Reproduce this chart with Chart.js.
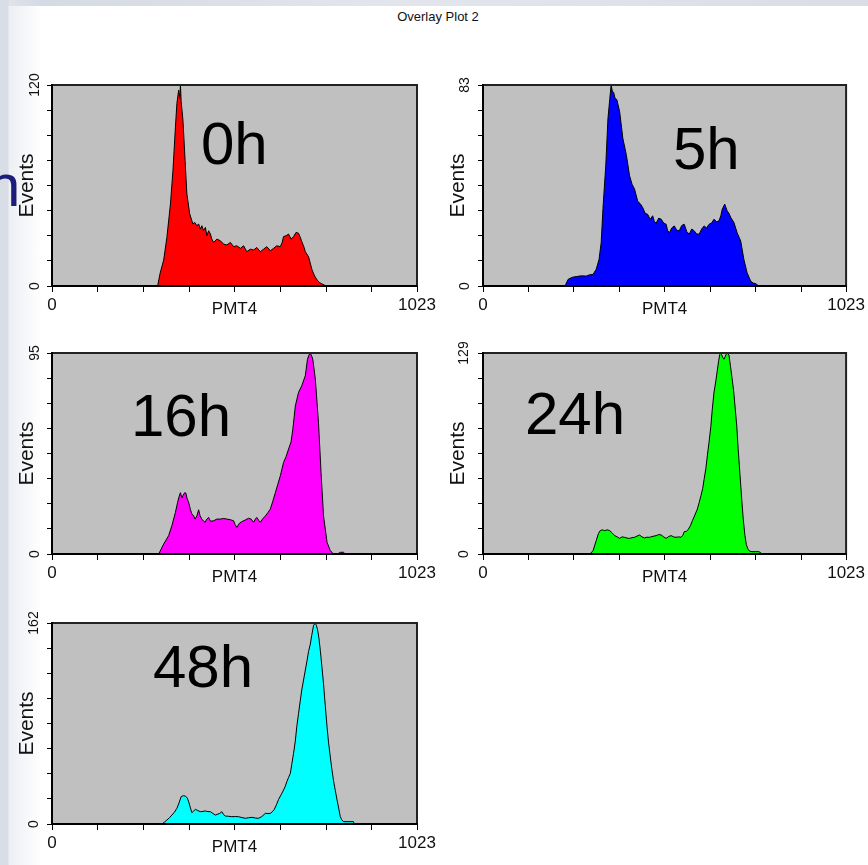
<!DOCTYPE html>
<html>
<head>
<meta charset="utf-8">
<title>Overlay Plot 2</title>
<script src="https://cdn.jsdelivr.net/npm/chart.js@4.4.0/dist/chart.umd.min.js"></script>
<style>
body { margin: 0; width: 868px; height: 865px; overflow: hidden; position: relative; background: #fff; font-family: Arial, "Liberation Sans", sans-serif; }
.bg-top { position: absolute; left: 0; top: 0; width: 868px; height: 6px; background: linear-gradient(to right, #d3d9e2, #e2e6ec 45%, #d9dee6); }
.bg-left { position: absolute; left: 0; top: 0; width: 50px; height: 865px; background: linear-gradient(to right, #d8dde6 0, #d8dde6 8px, rgba(228,232,239,0.7) 9px, rgba(255,255,255,0) 42px); }
canvas { position: absolute; }
.tag { position: absolute; font-size: 60px; line-height: 60px; color: #000; white-space: nowrap; }
.slide-letter { position: absolute; left: -13px; top: 156px; font-size: 60px; line-height: 60px; color: #1c1c7c; }
#plotTitle { position: absolute; left: 378px; top: 9px; width: 120px; text-align: center; font-size: 13px; color: #111; }
</style>
</head>
<body>
<div class="bg-top"></div>
<div class="bg-left"></div>
<div class="slide-letter">n</div>
<div id="plotTitle">Overlay Plot 2</div>

<script>
// time points, one histogram each
const timeLabels = ['0h', '5h', '16h', '24h', '48h'];
const yMaxValues = [120, 83, 95, 129, 162];
const xTickValues = [0, 128, 256, 384, 512, 640, 768, 896, 1023];
const xAxisTitle = 'PMT4';
const yAxisTitle = 'Events';

// PMT4 channel / event counts
const channels0h = [296,303,313,322,332,339,346,350,355,358,360,362,367,373,378,386,395,400,406,411,416,420,425,430,434,439,444,448,453,462,472,481,490,500,509,518,528,537,546,556,565,574,584,593,602,612,621,630,640,645,649,656,663,670,677,684,691,696,700,705,710,719,729,736,743,750,757,764,771];
const counts0h = [0,7.6,15.5,29,49,69,95,109,117,112,120,110,99,75,55,43,37,38,36,37,34,36,33,35,30,33,31,28,26,28,27,25,24.5,26,23.5,24,22.5,24,20.5,22,21.5,23,20.5,22,23.5,21,22.5,24,23.5,26,29.5,30,31,28,29.5,32,31.5,29,26.5,24,20.5,17.5,9.5,6,3.6,2,1.2,0.5,0];

const channels5h = [231,240,252,263,277,291,300,310,319,327,333,338,346,352,357,361,365,368,372,377,385,394,404,413,420,427,436,443,450,457,464,471,478,483,488,495,502,509,516,520,525,532,539,546,553,560,567,574,581,588,595,602,609,616,623,630,637,644,651,658,665,670,674,681,688,693,698,707,716,726,735,744,754,761,768,777];
const counts5h = [0,2.8,3.6,3.9,4.2,4.1,4.6,4.8,6.9,11,18,32,50,69,77,83,80,80,77.5,77,72,61,54,45.5,42,40,35,34,32.4,30,29.6,27.5,29,26.5,26,28,27.6,26,25.5,23,22,24,24.8,23,22.8,25,25.5,22.5,21.4,23.5,22.8,21.5,21.4,23.5,24.8,24,25.5,26,27.6,26.5,26.9,29,31.7,33.8,31,30,28.3,26.2,22,18.6,11,5.5,2.1,1.2,1,0];

const channels16h = [299,313,327,336,346,352,356,360,364,367,372,375,379,383,388,392,397,401,406,411,415,420,425,429,434,439,444,453,462,472,481,490,500,509,513,518,525,532,541,551,558,565,570,574,579,584,590,598,605,612,619,626,633,640,649,656,663,670,675,682,691,700,710,716,720,724,728,731,738,747,754,761,771,780,789,800,808,817,822];
const counts16h = [0,4.7,8.7,13.4,19.7,24.4,27,29,26.5,27.6,29,28.8,26,24.4,21,18.9,18,16.5,18,20.9,18,16.5,15.5,15,16.5,17.3,15.5,15.7,16.5,16.5,16.8,16.5,16.2,15.7,14,12.6,14.5,15.3,16,16.9,16.5,15,16.5,17.3,16,15,16.5,18,19.5,21.3,25,29,33,37,43.3,46,49.6,53,59,70,76.4,79.5,84.3,92,94,95,93.5,92,82.7,62,38.6,18,5.5,1.6,0,0,0.8,0.8,0];

const channels24h = [301,310,319,325,330,336,343,350,357,364,371,378,385,392,399,406,413,420,427,434,441,448,455,462,469,476,488,495,502,509,516,523,530,537,544,551,558,563,567,573,579,585,590,597,604,609,614,619,623,628,632,637,642,646,651,656,660,664,667,670,672,676,679,683,687,690,693,697,701,706,710,715,719,724,729,733,738,742,747,752,758,768,777,782,786];
const counts24h = [0,2.1,8.6,13,15,15.5,15,15.5,15,13.5,11.8,11,10,11,10.7,10.2,10,10.5,10.7,11.5,12.2,11,10.3,10.8,10.7,11.2,11.8,12.5,12.2,11,10,11.2,11.8,11,10.7,11,10.7,12,14.3,14.5,16,18.5,21.4,25,28.9,33,37.4,42,48,55,63,72,82,93,104,111,117.6,124,128,129,128,126,125,127,129,128.5,127.7,121,114,105,95,82,67,51,35,23,11.8,6,2.8,1.8,1.5,1.5,1.5,1,0];

const channels48h = [308,315,322,329,336,343,350,356,362,368,374,379,383,388,392,397,402,409,416,423,430,437,444,451,458,465,470,476,481,486,495,504,514,523,532,542,551,560,570,579,588,598,605,612,618,623,629,635,642,649,654,658,663,668,672,677,682,686,691,696,700,705,710,715,719,724,728,733,738,741,744,748,752,756,761,766,771,775,780,784,789,794,799,804,808,812,817,830,845,847];
const counts48h = [0,1.5,3.2,5,7.2,9.5,12.6,17,22,22.8,22.5,21,18,13,9.1,10.5,11.8,10.8,9.9,10.2,10.5,10,9.9,8.5,7.2,8,8.5,9.9,7.5,6.4,6.2,5.9,6,5.9,5.2,4.6,5,5.4,4.8,4.6,6,8.6,8.4,8.6,10,11.8,15.5,19.8,23.5,27.4,30.5,34,37.5,40.8,48,57,67,78.3,89,99.8,108,116,124,132,139,145,152,160,162,160,157,150,140,128,113,95,78,66,54,45,35,27,19.3,12,5.9,3.5,1.9,1.9,1.9,0];

const channelSets = [channels0h, channels5h, channels16h, channels24h, channels48h];
const countSets = [counts0h, counts5h, counts16h, counts24h, counts48h];
const fillColors = ['#ff0000', '#0000ff', '#ff00ff', '#00ff00', '#00ffff'];

// where each panel canvas sits on the page and where its big time label goes
const panelBoxes = [
    { x: 0,   y: 62,  labelPad: 0, tagX: 201, tagY: 114 },
    { x: 431, y: 62,  labelPad: 5, tagX: 673, tagY: 119 },
    { x: 0,   y: 330, labelPad: 4, tagX: 131, tagY: 386 },
    { x: 431, y: 330, labelPad: 2, tagX: 525, tagY: 384 },
    { x: 0,   y: 600, labelPad: 1, tagX: 153, tagY: 637 }
];

// gray plot area plus a dark frame round it
const boxFrame = {
    id: 'boxFrame',
    beforeDraw(chart) {
        let a = chart.chartArea;
        let ctx = chart.ctx;
        ctx.save();
        ctx.fillStyle = '#c0c0c0';
        ctx.fillRect(a.left, a.top, a.right - a.left, a.bottom - a.top);
        ctx.restore();
    },
    afterDatasetsDraw(chart) {
        let a = chart.chartArea;
        let ctx = chart.ctx;
        ctx.save();
        ctx.strokeStyle = '#222';
        ctx.lineWidth = 2;
        ctx.strokeRect(a.left, a.top, a.right - a.left, a.bottom - a.top);
        ctx.restore();
    }
};

function makePanel(i) {
    let box = panelBoxes[i];
    let canvas = document.createElement('canvas');
    canvas.width = box.x === 0 ? 440 : 437;
    canvas.height = 268;
    canvas.style.left = box.x + 'px';
    canvas.style.top = box.y + 'px';
    document.body.appendChild(canvas);

    let tag = document.createElement('div');
    tag.className = 'tag';
    tag.textContent = timeLabels[i];
    tag.style.left = box.tagX + 'px';
    tag.style.top = box.tagY + 'px';
    document.body.appendChild(tag);

    let yMax = yMaxValues[i];
    let points = channelSets[i].map((c, k) => ({ x: c, y: countSets[i][k] }));
    let edgeLabel = (v, idx, arr) => (idx === 0 || idx === arr.length - 1) ? String(Math.round(v)) : '';

    new Chart(canvas.getContext('2d'), {
        type: 'line',
        data: {
            datasets: [{
                data: points,
                backgroundColor: fillColors[i],
                borderColor: '#000',
                borderWidth: 1,
                fill: 'origin',
                pointRadius: 0,
                tension: 0
            }]
        },
        options: {
            responsive: false,
            animation: false,
            events: [],
            layout: { padding: { left: 0, top: 23, right: canvas.width - 52 - 365, bottom: 0 } },
            plugins: { legend: { display: false }, tooltip: { enabled: false } },
            scales: {
                x: {
                    type: 'linear',
                    min: 0,
                    max: 1023,
                    afterBuildTicks: s => { s.ticks = xTickValues.map(v => ({ value: v })); },
                    afterFit: s => { s.height = 44; },
                    ticks: {
                        autoSkip: false, minRotation: 0, maxRotation: 0, padding: 3,
                        color: '#111', font: { family: 'Arial', size: 17 },
                        callback: edgeLabel
                    },
                    grid: { drawOnChartArea: false, tickLength: 6, color: '#000', tickColor: '#000', z: 1 },
                    border: { display: true, color: '#000', width: 2, z: 1 },
                    title: {
                        display: true, text: xAxisTitle, color: '#111',
                        font: { family: 'Arial', size: 17 }, padding: { top: 0, bottom: 10 }
                    }
                },
                y: {
                    type: 'linear',
                    min: 0,
                    max: yMax,
                    afterBuildTicks: s => {
                        let t = [];
                        for (let k = 0; k <= 8; k++) t.push({ value: yMax * k / 8 });
                        s.ticks = t;
                    },
                    afterFit: s => { s.width = 52; },
                    ticks: {
                        autoSkip: false, minRotation: 90, maxRotation: 90, crossAlign: 'center',
                        padding: box.labelPad, color: '#111', font: { family: 'Arial', size: 14 },
                        callback: edgeLabel
                    },
                    grid: { drawOnChartArea: false, tickLength: 5, color: '#000', tickColor: '#000', z: 1 },
                    border: { display: true, color: '#000', width: 2, z: 1 },
                    title: {
                        display: true, text: yAxisTitle, color: '#111',
                        font: { family: 'Arial', size: 21 }, padding: { top: 15, bottom: 0 }
                    }
                }
            }
        },
        plugins: [boxFrame]
    });
}

for (let i = 0; i < timeLabels.length; i++) makePanel(i);
</script>
</body>
</html>
